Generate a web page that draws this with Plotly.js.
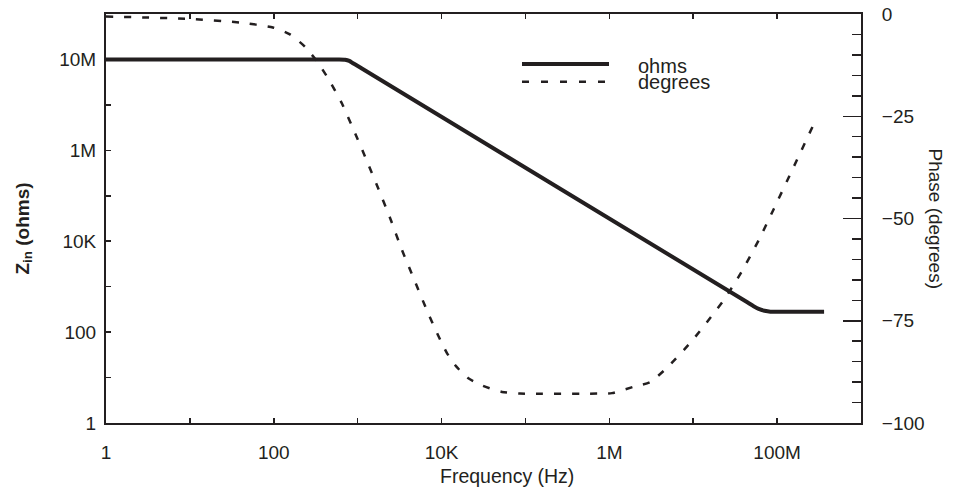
<!DOCTYPE html>
<html>
<head>
<meta charset="utf-8">
<script src="https://cdn.plot.ly/plotly-3.0.1.min.js"></script>
<style>html,body{margin:0;padding:0;background:#fff;}#chart{width:964px;height:491px;}</style>
</head>
<body>
<div id="chart"></div>
<script>
// Impedance magnitude (solid line)
const zFreqHz = [1, 603, 708, 794, 891, 1122, 44670000, 52480000, 60260000, 70790000, 83180000, 363100000];
const zOhms = [1e8, 1e8, 98860000, 93330000, 81280000, 63100000, 446.7, 371.5, 323.6, 295.1, 281.8, 281.8];

// Phase (dashed line)
const phFreqHz = [1, 10, 39.5, 97.7, 156, 235.5, 336.5, 467.7, 650, 903.6, 1256, 1746, 2427, 3373, 4688, 6516, 9057, 11590, 14860, 20650, 31120, 52480, 85900, 772700, 1074000, 1910000, 3048000, 4864000, 9397000, 16260000, 23230000, 37070000, 60670000, 91620000, 146200000, 297900000];
const phDeg = [-0.6, -1.2, -2.1, -3.3, -5.0, -8.0, -11.9, -16.5, -21.9, -28.5, -35.4, -42.5, -49.8, -57.7, -64.8, -71.9, -78.5, -82.9, -86.1, -89.0, -90.9, -92.4, -92.8, -92.8, -92.7, -91.2, -90.0, -86.5, -80.2, -74.1, -69.9, -63.3, -55.2, -47.6, -38.8, -25.3];

// Tick labels
const xTickVals = [1, 100, 1e4, 1e6, 1e8];
const xTickText = ['1', '100', '10K', '1M', '100M'];
const xMinorVals = [10, 1e3, 1e5, 1e7];
const yTickVals = [1, 100, 1e4, 1e6, 1e8];
const yTickText = ['1', '100', '10K', '1M', '10M'];
const yMinorVals = [10, 1e3, 1e5, 1e7];

const legendNames = ['ohms', 'degrees'];

const ink = '#231f20';
const font = 'Liberation Sans, Arial, Helvetica, sans-serif';

const traces = [
  {x: zFreqHz, y: zOhms, type: 'scatter', mode: 'lines', name: legendNames[0],
   line: {color: ink, width: 4, shape: 'spline', smoothing: 0.5}, yaxis: 'y', hoverinfo: 'none'},
  {x: phFreqHz, y: phDeg, type: 'scatter', mode: 'lines', name: legendNames[1],
   line: {color: ink, width: 2.5, dash: '7px,11px', shape: 'spline', smoothing: 0.6}, yaxis: 'y2', hoverinfo: 'none'}
];

function px2x(p) { return (p - 106) / 755; }
function py2y(p) { return (423 - p) / 409; }

const tickFont = {family: font, size: 19, color: ink};

const layout = {
  width: 964, height: 491,
  margin: {l: 106, r: 103, t: 14, b: 68, pad: 0},
  paper_bgcolor: '#fff', plot_bgcolor: '#fff',
  showlegend: false,
  font: {family: font, color: ink, size: 18},
  xaxis: {
    type: 'log', range: [0, 9], tickmode: 'array', tickvals: xTickVals, ticktext: xTickText,
    ticks: 'inside', ticklen: 5, tickwidth: 1.5, tickcolor: ink,
    minor: {tickmode: 'array', tickvals: xMinorVals, ticks: 'inside', ticklen: 5, tickwidth: 1.5, tickcolor: ink, showgrid: false},
    showline: true, linewidth: 2, linecolor: ink, mirror: 'ticks',
    showgrid: false, zeroline: false, automargin: false,
    tickfont: tickFont, ticklabelstandoff: 11
  },
  yaxis: {
    type: 'log', range: [0, 9], tickmode: 'array', tickvals: yTickVals, ticktext: yTickText,
    ticks: 'inside', ticklen: 5, tickwidth: 1.5, tickcolor: ink,
    minor: {tickmode: 'array', tickvals: yMinorVals, ticks: 'inside', ticklen: 5, tickwidth: 1.5, tickcolor: ink, showgrid: false},
    showline: true, linewidth: 2, linecolor: ink, mirror: false,
    showgrid: false, zeroline: false, automargin: false,
    tickfont: tickFont, ticklabelstandoff: 4
  },
  yaxis2: {
    overlaying: 'y', side: 'right', range: [-100, 0],
    tickmode: 'linear', tick0: 0, dtick: 25,
    ticks: 'inside', ticklen: 18, tickwidth: 1.5, tickcolor: ink,
    minor: {tickmode: 'linear', tick0: 0, dtick: 5, ticks: 'inside', ticklen: 9, tickwidth: 1.5, tickcolor: ink, showgrid: false},
    showline: true, linewidth: 2, linecolor: ink,
    showgrid: false, zeroline: false, automargin: false,
    tickfont: tickFont, ticklabelstandoff: 15
  },
  shapes: [
    {type: 'line', xref: 'paper', yref: 'paper', x0: px2x(522), x1: px2x(609), y0: py2y(64), y1: py2y(64),
     line: {color: ink, width: 4}},
    {type: 'line', xref: 'paper', yref: 'paper', x0: px2x(522), x1: px2x(609), y0: py2y(81.7), y1: py2y(81.7),
     line: {color: ink, width: 2.5, dash: '7px,12px'}}
  ],
  annotations: [
    {text: legendNames[0], xref: 'paper', yref: 'paper', x: px2x(636), y: py2y(66), xanchor: 'left', yanchor: 'middle',
     showarrow: false, font: {family: font, size: 20, color: ink}},
    {text: legendNames[1], xref: 'paper', yref: 'paper', x: px2x(636), y: py2y(82), xanchor: 'left', yanchor: 'middle',
     showarrow: false, font: {family: font, size: 20, color: ink}},
    {text: 'Frequency (Hz)', xref: 'paper', yref: 'paper', x: px2x(507), y: py2y(476), xanchor: 'center', yanchor: 'middle',
     showarrow: false, font: {family: font, size: 19.5, color: ink}},
    {text: '<b>Z<sub>in</sub> (ohms)</b>', xref: 'paper', yref: 'paper', x: px2x(23), y: py2y(228.5), xanchor: 'center', yanchor: 'middle',
     textangle: -90, showarrow: false, font: {family: font, size: 19, color: ink}},
    {text: 'Phase (degrees)', xref: 'paper', yref: 'paper', x: px2x(935), y: py2y(218.5), xanchor: 'center', yanchor: 'middle',
     textangle: 90, showarrow: false, font: {family: font, size: 19, color: ink}}
  ]
};

Plotly.newPlot('chart', traces, layout, {staticPlot: true, displayModeBar: false});
</script>
</body>
</html>
